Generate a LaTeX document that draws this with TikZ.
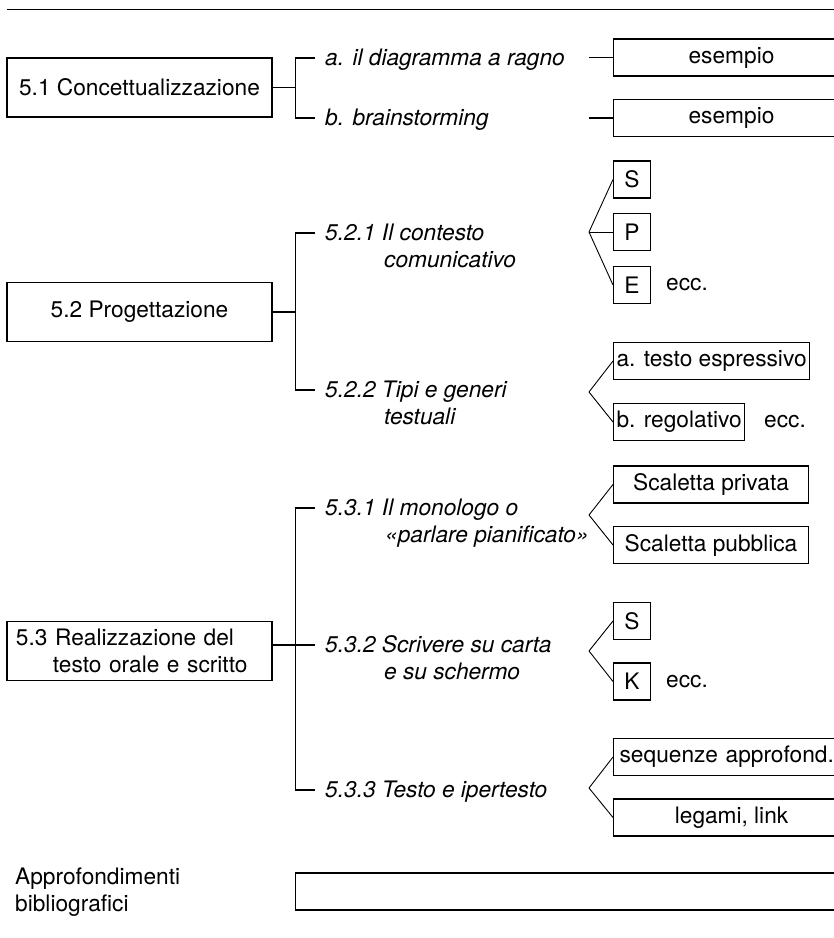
\documentclass[tikz,border=0pt]{standalone}
\usepackage{fontspec}
\setmainfont{TeX Gyre Heros}
\usetikzlibrary{positioning}
\newcommand{\diagfont}{\fontsize{22.7pt}{27.5pt}\selectfont}

\begin{document}
\begin{tikzpicture}[
  x=1pt, y=-1pt,
  font=\diagfont,
  every node/.style={align=center},
  mainbox/.style={draw, line width=1.1pt, minimum width=265pt, minimum height=59pt},
  topic/.style={font=\diagfont\itshape, align=left, anchor=base west, inner sep=0pt},
  leaf/.style={draw, line width=1.1pt, anchor=west, minimum height=37pt, inner xsep=3pt, inner ysep=0pt},
  letterbox/.style={leaf, minimum width=37pt},
  midbox/.style={leaf, minimum width=195pt},
  widebox/.style={leaf, minimum width=236pt},
  note/.style={anchor=west, inner sep=0pt},
  link/.style={line width=1.3pt},
  fan/.style={line width=0.9pt},
]
\useasboundingbox (0,0) rectangle (834,938);

\draw[link] (7,9.5) -- (834,9.5);

\node[mainbox] (conc) at (139.5,87.5) {5.1 Concettualizzazione};
\node[topic] (diag) at (325,65) {a. il diagramma a ragno};
\node[topic] (brain) at (325,125) {b. brainstorming};
\node[widebox] (es1) at (613,57.5) {esempio};
\node[widebox] (es2) at (613,118) {esempio};
\draw[link] (conc.east) -- ++(23,0) coordinate (k51);
\draw[link] ([shift={(-10,-7)}]diag.base west) -| (k51) |- ([shift={(-10,-7)}]brain.base west);
\draw[link] (es1.west) -- ++(-24,0);
\draw[link] (es2.west) -- ++(-24,0);

% two-line topics: base is the second line
\node[mainbox] (prog) at (139.5,312) {5.2 Progettazione};
\node[topic] (ctx) at (325,267.5) {5.2.1 Il contesto\\\hspace*{59pt}comunicativo};
\node[topic] (tipi) at (325,424.5) {5.2.2 Tipi e generi\\\hspace*{59pt}testuali};
\draw[link] (prog.east) -- ++(23,0) coordinate (k52);
\draw[link] ([shift={(-10,-34.5)}]ctx.base west) -| (k52) |- ([shift={(-10,-34.5)}]tipi.base west);

\node[letterbox] (s1) at (613,179.5) {S};
\node[letterbox] (p1) at (613,232) {P};
\node[letterbox] (e1) at (613,285) {E};
\node[note] (ecc1) at (666,285) {ecc.};
\coordinate (f521) at (589,232);
\foreach \n in {s1,p1,e1} \draw[fan] (f521) -- (\n.west);

\node[midbox, align=left] (espr) at (613,361) {a. testo espressivo};
\node[leaf] (rego) at (613,422) {b. regolativo};
\node[note] (ecc2) at (764,422) {ecc.};
\coordinate (f522) at (589,392);
\foreach \n in {espr,rego} \draw[fan] (f522) -- (\n.west);

\node[mainbox, text width=247pt, inner xsep=9pt, align=left] (real) at (139.5,651)
  {5.3 Realizzazione del\\\hspace*{37pt}testo orale e scritto};
\node[topic] (mono) at (325,542.5) {5.3.1 Il monologo o\\\hspace*{60pt}«parlare pianificato»};
\node[topic] (scriv) at (325,679.5) {5.3.2 Scrivere su carta\\\hspace*{59pt}e su schermo};
\node[topic] (iper) at (325,797) {5.3.3 Testo e ipertesto};
\coordinate (t532) at ([shift={(-10,-34.5)}]scriv.base west);
\draw[link] (real.east |- t532) -- (t532);
\coordinate (k53) at ([xshift=23pt]real.east |- t532);
\draw[link] ([shift={(-10,-34.5)}]mono.base west) -| (k53) |- ([shift={(-10,-7)}]iper.base west);

\node[midbox] (priv) at (613,484.5) {Scaletta privata};
\node[midbox] (pubb) at (613,545) {Scaletta pubblica};
\coordinate (f531) at (589,515);
\foreach \n in {priv,pubb} \draw[fan] (f531) -- (\n.west);

\node[letterbox] (s2) at (613,621) {S};
\node[letterbox] (k2) at (613,681.5) {K};
\node[note] (ecc3) at (666,681.5) {ecc.};
\coordinate (f532) at (589,651);
\foreach \n in {s2,k2} \draw[fan] (f532) -- (\n.west);

\node[widebox, text width=224pt, inner xsep=6pt, align=left] (seq) at (613,757) {sequenze approfond.};
\node[widebox] (leg) at (613,817.5) {legami, link};
\coordinate (f533) at (589,788);
\foreach \n in {seq,leg} \draw[fan] (f533) -- (\n.west);

\node[note, align=left] (biblio) at (15,892) {Approfondimenti\\bibliografici};
\node[leaf, minimum width=560pt] (biblbox) at (295,891.5) {};

\end{tikzpicture}
\end{document}
